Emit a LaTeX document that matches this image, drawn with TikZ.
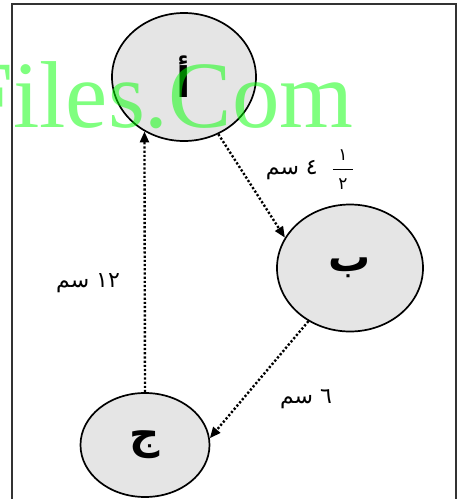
\documentclass[tikz,border=0pt]{standalone}
\usepackage{amsmath}
\usepackage{fontspec}
\usetikzlibrary{arrows.meta,shapes.geometric}
\TeXXeTstate=1
\newfontfamily\arabicfont[Script=Arabic]{DejaVu Sans}
\newfontfamily\wmfont{Liberation Serif}
\tikzset{
  ptnode/.style={draw,ellipse,line width=1.7pt,fill=gray!20,font=\arabicfont\fontsize{42}{42}\selectfont\bfseries},
  darr/.style={-{Triangle[length=11pt,width=9pt]},dash pattern=on 2.2pt off 2pt,line width=2.4pt},
  lbl/.style={font=\arabicfont\fontsize{22}{26}\selectfont,inner sep=0pt}
}
\newcommand{\fracdig}[1]{\makebox[20pt]{\arabicfont\fontsize{17}{17}\selectfont\rule[-1pt]{0pt}{12pt}#1}}
\begin{document}
\begin{tikzpicture}[x=1pt,y=-1pt]
  \useasboundingbox (0,0) rectangle (458,499);
  % Frame
  \draw[line width=1.8pt,black!80] (12,4) rectangle (456,510);

  % Points
  \node[ptnode,minimum width=144pt,minimum height=128pt] (A) at (184,77) {\beginR أ\endR};
  \node[ptnode,minimum width=146pt,minimum height=127pt] (B) at (350,268) {\beginR ب\endR};
  \node[ptnode,minimum width=129pt,minimum height=104pt] (C) at (145,445) {\beginR ج\endR};

  % Distances
  \draw[darr] (A.-59) -- (B.155);
  \draw[darr] (B.-128) -- (C.6);
  \draw[darr] (C.north) -- (A.-126);
  \node[lbl] (dAB) at (310,170) {\beginR سم\endR\ ٤\ \ $\dfrac{\fracdig{١}}{\fracdig{٢}}$};
  \node[lbl] (dCA) at (88,283) {\beginR\beginL ١٢\endL{} سم\endR};
  \node[lbl] (dBC) at (306,399) {\beginR\beginL ٦\endL{} سم\endR};

  % Watermark
  \node[anchor=base west,inner sep=0pt,text=green,opacity=0.5,font=\wmfont\fontsize{95}{95}\selectfont] (wmark) at (-40,127) {Files.Com};
\end{tikzpicture}
\end{document}
